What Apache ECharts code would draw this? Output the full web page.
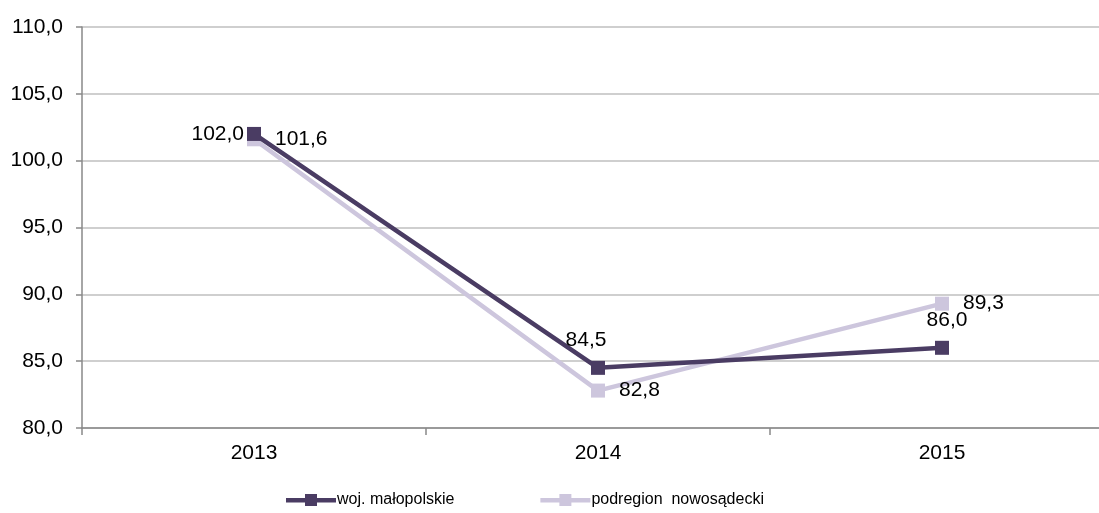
<!DOCTYPE html>
<html><head><meta charset="utf-8">
<script src="https://cdn.jsdelivr.net/npm/echarts@6/dist/echarts.min.js"></script>
<style>html,body{margin:0;padding:0;background:#fff}#c{width:1099px;height:513px}</style>
</head><body><div id="c"></div>
<script>
const categories = ['2013', '2014', '2015'];
const seriesNames = ['woj. małopolskie', 'podregion  nowosądecki'];
const malopolskie = [102.0, 84.5, 86.0];
const nowosadecki = [101.6, 82.8, 89.3];
const yTicks = [80, 85, 90, 95, 100, 105, 110];

const fmt = v => v.toFixed(1).replace('.', ',');
const font = 'Liberation Sans, Arial, sans-serif';
const dark = '#4a3c63';
const light = '#cdc6dd';
const iconPath = 'path://M0,4 L19,4 L19,0 L31,0 L31,4 L50,4 L50,8.5 L31,8.5 L31,12 L19,12 L19,8.5 L0,8.5 Z';

const darkLabels = [
  { position: 'left', distance: 3 },
  { position: 'top', distance: 10, offset: [-12, 0] },
  { position: 'top', distance: 10, offset: [5, 0] }
];

const chart = echarts.init(document.getElementById('c'));
chart.setOption({
  animation: false,
  textStyle: { fontFamily: font },
  grid: { left: 82, top: 27, width: 1032, height: 401, containLabel: false, outerBoundsMode: 'none' },
  legend: {
    left: 281, top: 487, itemGap: 86, itemWidth: 50, itemHeight: 12,
    textStyle: { fontSize: 16, color: '#000', fontFamily: font, padding: [0, 0, 0, -4] },
    data: [
      { name: seriesNames[0], icon: iconPath },
      { name: seriesNames[1], icon: iconPath }
    ]
  },
  xAxis: {
    type: 'category', data: categories, boundaryGap: true,
    axisLine: { lineStyle: { color: '#898989', width: 1.5 } },
    axisTick: { show: true, length: 7, lineStyle: { color: '#898989', width: 1.5 } },
    axisLabel: { fontSize: 21, color: '#000', margin: 15, fontFamily: font }
  },
  yAxis: {
    type: 'value', min: yTicks[0], max: yTicks[yTicks.length - 1], interval: 5,
    axisLine: { show: true, lineStyle: { color: '#898989', width: 1.5 } },
    axisTick: { show: true, length: 6, lineStyle: { color: '#898989', width: 1.5 } },
    axisLabel: { fontSize: 21, color: '#000', margin: 19, formatter: v => fmt(v), fontFamily: font },
    splitLine: { lineStyle: { color: '#bfbfbf', width: 1.5 } }
  },
  series: [
    {
      name: seriesNames[1], type: 'line', data: nowosadecki, z: 2,
      symbol: 'rect', symbolSize: 14,
      lineStyle: { color: light, width: 4.5 }, itemStyle: { color: light },
      label: { show: true, position: 'right', distance: 14, fontSize: 21, color: '#000', fontFamily: font,
               formatter: p => fmt(p.value) },
      emphasis: { disabled: true }
    },
    {
      name: seriesNames[0], type: 'line', z: 3,
      data: malopolskie.map((v, i) => ({ value: v, label: darkLabels[i] })),
      symbol: 'rect', symbolSize: 14,
      lineStyle: { color: dark, width: 4.5 }, itemStyle: { color: dark },
      label: { show: true, fontSize: 21, color: '#000', fontFamily: font,
               formatter: p => fmt(p.value), position: 'top' },
      emphasis: { disabled: true }
    }
  ]
});
</script></body></html>
